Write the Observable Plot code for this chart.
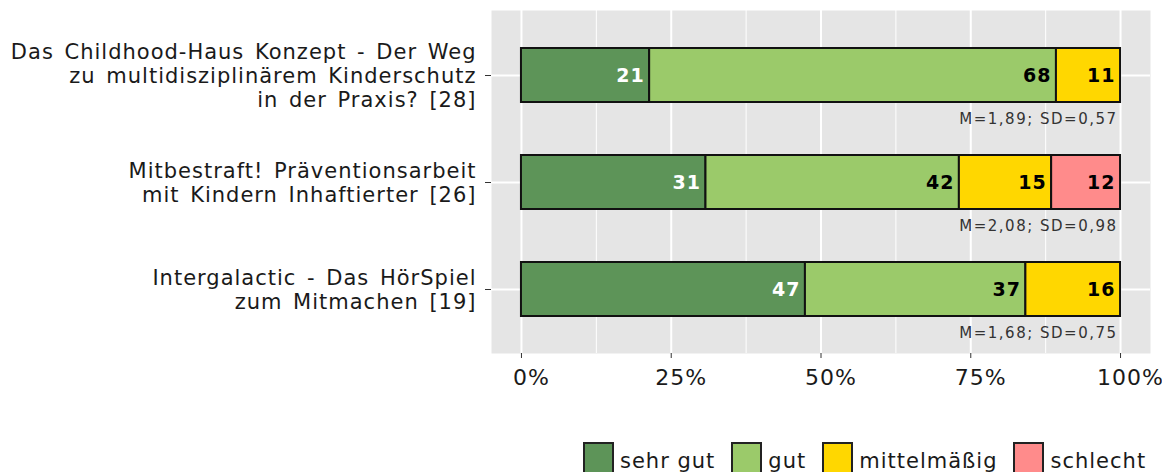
<!DOCTYPE html>
<html><head><meta charset="utf-8">
<script src="https://cdn.jsdelivr.net/npm/d3@7"></script>
<script src="https://cdn.jsdelivr.net/npm/@observablehq/plot@0.6"></script>
<style>
body{margin:0;background:#fff;font-family:"DejaVu Sans",sans-serif;}
#wrap{position:relative;width:1174px;height:472px;overflow:hidden;background:#fff;}
#chart{position:absolute;left:0;top:0;width:1174px;height:400px;clip-path:inset(0 12px 0 0);}
#chart svg{max-width:none;}
#legend{position:absolute;left:583px;top:442px;display:flex;align-items:flex-start;font-size:21px;letter-spacing:1px;color:#1a1a1a;}
.item{display:flex;align-items:flex-start;margin-right:16px;}
.key{box-sizing:border-box;width:31px;height:36px;border:2px solid #222;margin-right:6px;}
.lab{line-height:1;padding-top:9px;white-space:nowrap;}
</style>
</head><body>
<div id="wrap"><div id="chart"></div><div id="legend"></div></div>
<script>
const items = [
  "Das Childhood-Haus Konzept - Der Weg\nzu multidisziplinärem Kinderschutz\nin der Praxis? [28]",
  "Mitbestraft! Präventionsarbeit\nmit Kindern Inhaftierter [26]",
  "Intergalactic - Das HörSpiel\nzum Mitmachen [19]"
];
const categories = ["sehr gut", "gut", "mittelmäßig", "schlecht"];
const colors = ["#5d9458", "#9bca6a", "#ffd700", "#ff8b8b"];
const sehrGut = [21.4, 30.8, 47.4];
const gut = [67.9, 42.3, 36.8];
const mittel = [10.7, 15.4, 15.8];
const schlecht = [0, 11.5, 0];
const stats = ["M=1,89; SD=0,57", "M=2,08; SD=0,98", "M=1,68; SD=0,75"];
const xTicks = [0, 25, 50, 75, 100];
const xMinor = [12.5, 37.5, 62.5, 87.5];

const series = [sehrGut, gut, mittel, schlecht];
const table = [];
items.forEach((item, i) => {
  categories.forEach((cat, j) => {
    const v = series[j][i];
    if (v > 0) table.push({item, cat, value: v});
  });
});
const statTable = items.map((item, i) => ({item, x: 100, label: stats[i]}));

const chart = Plot.plot({
  width: 1174,
  height: 400,
  marginLeft: 491,
  marginRight: 24,
  marginTop: 10,
  marginBottom: 47,
  style: {fontFamily: "DejaVu Sans", letterSpacing: "1px", color: "#1a1a1a", background: "white", maxWidth: "none"},
  x: {domain: [-5, 105]},
  y: {domain: items, paddingInner: 0.5, paddingOuter: 0.35},
  color: {domain: categories, range: colors},
  marks: [
    Plot.frame({fill: "#e5e5e5", stroke: "none"}),
    Plot.ruleX(xMinor, {stroke: "white", strokeWidth: 1}),
    Plot.ruleX(xTicks, {stroke: "white", strokeWidth: 2}),
    Plot.gridY({stroke: "white", strokeOpacity: 1, strokeWidth: 2}),
    Plot.axisX({ticks: xTicks, tickFormat: () => "", tickSize: 5, stroke: "#333", label: null}),
    Plot.axisX({ticks: xTicks, tickFormat: d => d + "%", tickSize: 0, tickPadding: 16, fontSize: 22, dx: 10, label: null}),
    Plot.axisY({tickSize: 6, tickPadding: 9, fontSize: 21, lineHeight: 1.14, stroke: "#333", label: null}),
    Plot.barX(table, {y: "item", x: "value", fill: "cat", stroke: "#111", strokeWidth: 2}),
    Plot.text(table, Plot.stackX2({y: "item", x: "value", text: d => d.cat === "sehr gut" ? String(Math.round(d.value)) : null, textAnchor: "end", dx: -5, fill: "white", fontWeight: "bold", fontSize: 19})),
    Plot.text(table, Plot.stackX2({y: "item", x: "value", text: d => d.cat !== "sehr gut" ? String(Math.round(d.value)) : null, textAnchor: "end", dx: -5, fill: "black", fontWeight: "bold", fontSize: 19})),
    Plot.text(statTable, {x: "x", y: "item", text: "label", textAnchor: "end", dx: -3, dy: 44, fontSize: 15, fill: "#333"})
  ]
});
const svg = d3.select(chart);
svg.selectAll("text").filter(function() { return /^M=/.test(this.textContent); }).attr("letter-spacing", "1.5px");
svg.selectAll("text").filter(function() { return /\[\d+\]/.test(this.textContent); }).attr("word-spacing", "3px");
document.getElementById("chart").appendChild(chart);

const legend = d3.select("#legend");
categories.forEach((cat, j) => {
  const it = legend.append("div").attr("class", "item");
  it.append("div").attr("class", "key").style("background", colors[j]);
  it.append("div").attr("class", "lab").text(cat);
});
</script>
</body></html>
